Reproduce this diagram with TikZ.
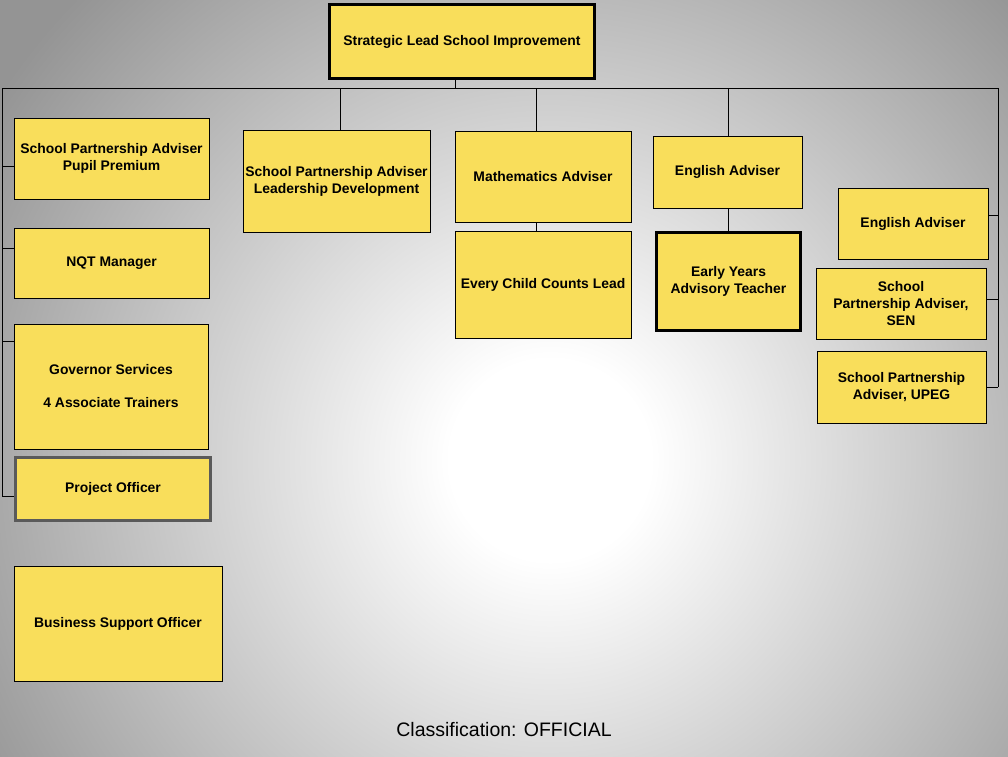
\documentclass[tikz,border=0pt]{standalone}
\usepackage{fontspec}
\setmainfont{Liberation Sans}
\definecolor{bgout}{HTML}{949494}
\definecolor{boxfill}{HTML}{F9DE5B}
\definecolor{projgray}{HTML}{5A5A5A}
\pgfdeclareradialshading{bgshade}{\pgfpointorigin}{color(0bp)=(white); color(100bp)=(white); color(660bp)=(bgout); color(740bp)=(bgout)}
\begin{document}
\begin{tikzpicture}[x=1pt,y=-1pt,
  box/.style={draw=black, line width=1pt, fill=boxfill, align=center, inner sep=2pt,
    font=\bfseries\fontsize{13.9}{17}\selectfont},
  thickbox/.style={box, line width=3pt},
  conn/.style={draw=black, line width=1pt}]
\useasboundingbox (0,0) rectangle (1008,756);
% background
\fill[bgout] (0,0) rectangle (1008,756);
\begin{scope}
\clip (0,0) rectangle (1008,756);
\node[inner sep=0pt, outer sep=0pt] (bg) at (550,460) {\pgfuseshading{bgshade}};
\end{scope}

% nodes
\node[thickbox, minimum width=265pt, minimum height=74pt] (top) at (462,41.5) {Strategic Lead School Improvement};
\node[box, minimum width=195pt, minimum height=81pt] (pp) at (111.5,158.5) {School Partnership Adviser\\Pupil Premium};
\node[box, minimum width=195pt, minimum height=70pt] (nqt) at (111.5,263) {NQT Manager};
\node[box, minimum width=194pt, minimum height=125pt] (gov) at (111,386.5) {Governor Services\\[16pt]4 Associate Trainers};
\node[thickbox, draw=projgray, minimum width=195pt, minimum height=63pt] (proj) at (113,489) {Project Officer};
\node[box, minimum width=208pt, minimum height=115pt] (bso) at (118,623.5) {Business Support Officer};
\node[box, minimum width=187pt, minimum height=102pt] (ld) at (336.5,181) {School Partnership Adviser\\Leadership Development};
\node[box, minimum width=176pt, minimum height=91pt] (math) at (543,176.5) {Mathematics Adviser};
\node[box, minimum width=176pt, minimum height=107pt] (ecc) at (543,284.5) {Every Child Counts Lead};
\node[box, minimum width=149pt, minimum height=72pt] (eng) at (727.5,172) {English Adviser};
\node[thickbox, minimum width=144pt, minimum height=98pt] (ey) at (728.5,281.5) {Early Years\\Advisory Teacher};
\node[box, minimum width=150pt, minimum height=71pt] (engR) at (913,223.5) {English Adviser};
\node[box, minimum width=170pt, minimum height=71pt] (sen) at (901,303.5) {School\\Partnership Adviser,\\SEN};
\node[box, minimum width=169pt, minimum height=72pt] (upeg) at (901.5,387) {School Partnership\\Adviser, UPEG};

\node[font=\fontsize{19.5}{22}\selectfont, inner sep=0pt] (cls) at (504,730) {Classification: OFFICIAL};

% connector coordinates
\coordinate (hub) at (455,88);
\coordinate (busL) at (2,88);
\coordinate (busR) at (998,88);
\coordinate (leftEnd) at (2,496);
\coordinate (rightEnd) at (998,387);
\coordinate (dLD) at (340,88);
\coordinate (dM) at (536,88);
\coordinate (dE) at (728,88);
\coordinate (bPP) at (2,166);
\coordinate (bNQT) at (2,248);
\coordinate (bGOV) at (2,341);
\coordinate (bPROJ) at (2,496);
\coordinate (bENG) at (998,215);
\coordinate (bSEN) at (998,299);
\coordinate (bUPEG) at (998,387);

% connectors
\draw[conn] (hub |- top.south) -- (hub);
\draw[conn] (busL) -- (busR);
\draw[conn] (busL) -- (leftEnd);
\draw[conn] (busR) -- (rightEnd);
\draw[conn] (bPP) -- (bPP -| pp.west);
\draw[conn] (bNQT) -- (bNQT -| nqt.west);
\draw[conn] (bGOV) -- (bGOV -| gov.west);
\draw[conn] (bPROJ) -- (bPROJ -| proj.west);
\draw[conn] (dLD) -- (dLD |- ld.north);
\draw[conn] (dM) -- (dM |- math.north);
\draw[conn] (dE) -- (dE |- eng.north);
\draw[conn] (dM |- math.south) -- (dM |- ecc.north);
\draw[conn] (dE |- eng.south) -- (dE |- ey.north);
\draw[conn] (bENG) -- (bENG -| engR.east);
\draw[conn] (bSEN) -- (bSEN -| sen.east);
\draw[conn] (bUPEG) -- (bUPEG -| upeg.east);
\end{tikzpicture}
\end{document}
